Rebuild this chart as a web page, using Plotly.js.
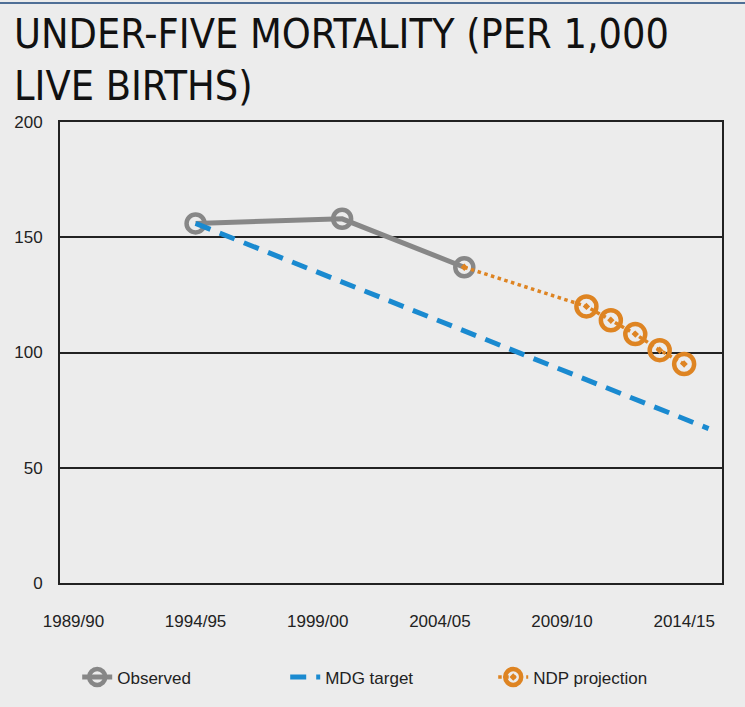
<!DOCTYPE html>
<html>
<head>
<meta charset="utf-8">
<script src="https://cdn.plot.ly/plotly-3.0.1.min.js"></script>
<style>
html,body{margin:0;padding:0;background:#ececec;}
#chart{width:745px;height:707px;}
</style>
</head>
<body>
<div id="chart"></div>
<script>
// ---- data ----
const titleLines = ['UNDER-FIVE MORTALITY (PER 1,000', 'LIVE BIRTHS)'];
const tickYears = [1990, 1995, 2000, 2005, 2010, 2015];
const tickLabels = ['1989/90', '1994/95', '1999/00', '2004/05', '2009/10', '2014/15'];

const observedYears = [1995, 2001, 2006];
const observedValues = [156, 158, 137];

const mdgYears = [1995, 2016];
const mdgValues = [156, 67];

const ndpYears = [2006, 2011, 2012, 2013, 2014, 2015];
const ndpValues = [137, 120, 114, 108, 101, 95];

const gray = '#878787', blue = '#1a8ad0', orange = '#de8422';

const traces = [
  {
    name: 'Observed', x: observedYears, y: observedValues, type: 'scatter', mode: 'lines+markers',
    line: {color: gray, width: 5},
    marker: {symbol: 'circle-open', size: 18, color: gray, opacity: 1, line: {width: 4.5, color: gray}}
  },
  {
    name: 'MDG target', x: mdgYears, y: mdgValues, type: 'scatter', mode: 'lines',
    line: {color: blue, width: 5, dash: '16px,10px'}
  },
  {
    name: 'NDP projection', x: ndpYears, y: ndpValues, type: 'scatter', mode: 'lines+markers',
    line: {color: orange, width: 3.5, dash: 'dot'},
    marker: {symbol: 'circle-open-dot', size: ndpYears.map((v, i) => i === 0 ? 0 : 20), color: orange, opacity: 1, line: {width: 4.5, color: orange}}
  }
];

// pixel -> paper helpers (plot area: y 122..585, x 60..722)
const py = px => (585 - px) / 463;
const pxX = px => (px - 60) / 662;

const layout = {
  width: 745, height: 707,
  paper_bgcolor: '#ececec', plot_bgcolor: '#ececec',
  margin: {l: 60, r: 23, t: 122, b: 122},
  font: {family: 'Liberation Sans, Arial, sans-serif', color: '#222', size: 17},
  xaxis: {
    range: [1989.45, 2016.55], tickvals: tickYears, ticktext: tickLabels,
    showgrid: false, zeroline: false, showline: true, mirror: true, linecolor: '#222', linewidth: 2,
    ticks: 'outside', ticklen: 22, tickcolor: 'rgba(0,0,0,0)',
    tickfont: {size: 17, color: '#222'}
  },
  yaxis: {
    range: [0, 200], tickvals: [0, 50, 100, 150, 200],
    showgrid: true, gridcolor: '#222', gridwidth: 2, zeroline: false,
    showline: true, mirror: true, linecolor: '#222', linewidth: 2,
    ticks: 'outside', ticklen: 12, tickcolor: 'rgba(0,0,0,0)',
    tickfont: {size: 17, color: '#222'}
  },
  showlegend: true,
  legend: {
    orientation: 'h', x: 0.026, xanchor: 'left', y: -0.205, yanchor: 'middle',
    entrywidth: 163, bgcolor: 'rgba(0,0,0,0)', font: {size: 17, color: '#222'}
  },
  annotations: titleLines.map((t, i) => ({
    text: t, xref: 'paper', yref: 'paper', x: pxX(12), y: py(34 + i * 52),
    xanchor: 'left', yanchor: 'middle', showarrow: false,
    font: {family: 'Liberation Sans Narrow, DejaVu Sans Condensed, sans-serif', size: 41, color: '#111'}
  })),
  shapes: [
    {type: 'line', xref: 'paper', yref: 'paper', x0: -0.1, x1: 1.1, y0: py(2.5), y1: py(2.5),
     line: {color: '#4f6f96', width: 2}}
  ]
};

Plotly.newPlot('chart', traces, layout, {displayModeBar: false});
</script>
</body>
</html>
